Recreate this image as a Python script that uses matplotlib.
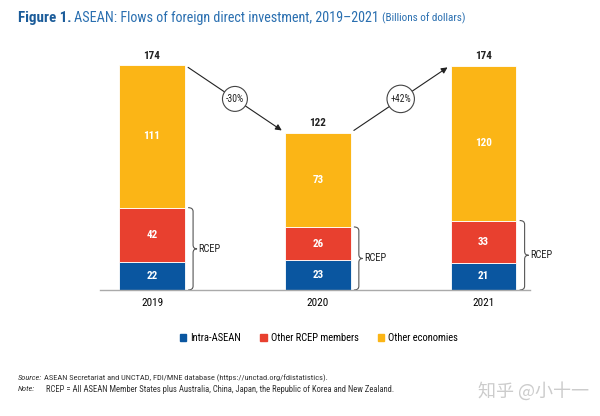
import matplotlib
matplotlib.use("Agg")
import matplotlib.pyplot as plt
from matplotlib.path import Path
from matplotlib.patches import PathPatch
import numpy as np

years = ["2019", "2020", "2021"]
intra_asean = [22, 23, 21]
other_rcep = [42, 26, 33]
other_econ = [111, 73, 120]
totals = [174, 122, 174]
changes = ["-30%", "+42%"]
series_names = ["Intra-ASEAN", "Other RCEP members", "Other economies"]

C_BLUE = "#0a56a0"
C_RED = "#e8402f"
C_YEL = "#fbb516"

FONT = ["Roboto Condensed", "IBM Plex Sans Condensed", "Open Sans", "DejaVu Sans"]
plt.rcParams["font.family"] = FONT
plt.rcParams["font.stretch"] = "condensed"

fig = plt.figure(figsize=(6.0, 4.16), dpi=100)
ax = fig.add_axes([100/600, 126/416, 430/600, 244.5/416])

x = np.arange(len(years))
w = 0.395
ax.bar(x, intra_asean, w, color=C_BLUE, edgecolor="white", linewidth=0.6)
ax.bar(x, other_rcep, w, bottom=intra_asean, color=C_RED, edgecolor="white", linewidth=0.6)
bot2 = np.array(intra_asean) + np.array(other_rcep)
ax.bar(x, other_econ, w, bottom=bot2, color=C_YEL, edgecolor="white", linewidth=0.6)

ax.set_xlim(-0.314, 2.28)
ax.set_ylim(0, 190)
for s in ["top", "right", "left"]:
    ax.spines[s].set_visible(False)
ax.spines["bottom"].set_color("#aaaaaa")
ax.spines["bottom"].set_linewidth(1.0)
ax.set_yticks([])
ax.set_xticks(x)
ax.set_xticklabels(years, fontsize=8)
ax.tick_params(axis="x", length=0, pad=6)

for i in range(len(years)):
    ax.text(x[i], intra_asean[i] / 2, str(intra_asean[i]), ha="center", va="center",
            color="white", fontsize=8, fontweight="bold")
    ax.text(x[i], intra_asean[i] + other_rcep[i] / 2, str(other_rcep[i]), ha="center", va="center",
            color="white", fontsize=8, fontweight="bold")
    ax.text(x[i], bot2[i] + other_econ[i] / 2, str(other_econ[i]), ha="center", va="center",
            color="white", fontsize=8, fontweight="bold")
    ax.text(x[i], totals[i] + 4, str(totals[i]), ha="center", va="bottom",
            color="#222222", fontsize=8, fontweight="bold")

    # brace
    bx = x[i] + w / 2 + 0.02
    top = bot2[i]
    dx = 0.03
    mid = top / 2
    r = 3.0
    verts = [
        (bx, top), (bx + dx, top), (bx + dx, top - r),
        (bx + dx, mid + r),
        (bx + dx, mid), (bx + dx * 1.8, mid),
        (bx + dx, mid), (bx + dx, mid - r),
        (bx + dx, r),
        (bx + dx, 0), (bx, 0),
    ]
    codes = [Path.MOVETO, Path.CURVE3, Path.CURVE3,
             Path.LINETO,
             Path.CURVE3, Path.CURVE3,
             Path.CURVE3, Path.CURVE3,
             Path.LINETO,
             Path.CURVE3, Path.CURVE3]
    ax.add_patch(PathPatch(Path(verts, codes), fill=False, edgecolor="#555555", lw=0.8, clip_on=False))
    ax.text(bx + dx * 2.1, mid, "RCEP", ha="left", va="center", fontsize=7.5, color="#222222")

# arrows with change circles
for i in range(len(changes)):
    x0 = x[i] + w / 2 + 0.02
    y0 = totals[i]
    x1 = x[i + 1] - w / 2 - 0.02
    y1 = totals[i + 1]
    if y1 < y0:
        y0s, y1s = y0 - 1, y1 + 2
    else:
        y0s, y1s = y0 + 2, y1 - 1
    ax.annotate("", xy=(x1, y1s), xytext=(x0, y0s),
                arrowprops=dict(arrowstyle="-|>", color="#222222", lw=0.8,
                                mutation_scale=9, shrinkA=0, shrinkB=0))
    xm = (x0 + x1) / 2
    ym = (y0s + y1s) / 2
    ax.text(xm, ym, changes[i], ha="center", va="center", fontsize=7, color="#222222",
            bbox=dict(boxstyle="circle,pad=0.35", facecolor="white", edgecolor="#444444", lw=0.8))

# title, laid out piece by piece
renderer = fig.canvas.get_renderer()
ty = 1 - 18/416
t1 = fig.text(18/600, ty, "Figure 1.", fontsize=10.8, fontweight="bold", color="#1a5b99",
              ha="left", va="center")
bb = t1.get_window_extent(renderer)
t2 = fig.text((bb.x1 + 3) / 600, ty, "ASEAN: Flows of foreign direct investment, 2019\u20132021",
              fontsize=10.2, color="#2a6fb0", ha="left", va="center")
bb = t2.get_window_extent(renderer)
fig.text((bb.x1 + 3) / 600, ty - 0.5/416, "(Billions of dollars)", fontsize=8, color="#2a6fb0",
         ha="left", va="center")

# legend
handles = [plt.Rectangle((0, 0), 1, 1, color=c) for c in (C_BLUE, C_RED, C_YEL)]
fig.legend(handles, series_names, loc="center", bbox_to_anchor=(319/600, 1 - 338/416),
           ncol=3, frameon=False, fontsize=7.6, handlelength=0.6, handleheight=0.6,
           handletextpad=0.4, columnspacing=1.8)

# notes
s1 = fig.text(18/600, 1 - 378/416, "Source:", fontsize=6, style="italic", color="#333333", va="center")
bb = s1.get_window_extent(renderer)
fig.text((bb.x1 + 2) / 600, 1 - 378/416,
         "ASEAN Secretariat and UNCTAD, FDI/MNE database (https://unctad.org/fdistatistics).",
         fontsize=6, color="#333333", va="center")
fig.text(18/600, 1 - 389/416, "Note:", fontsize=6, style="italic", color="#333333", va="center")
fig.text(46/600, 1 - 389/416,
         "RCEP = All ASEAN Member States plus Australia, China, Japan, the Republic of Korea and New Zealand.",
         fontsize=6.2, color="#333333", va="center")

fig.text(533/600, 1 - 391/416, "知乎 @小十一", fontsize=13, color="#cccccc", ha="center", va="center",
         family=["Noto Sans CJK SC", "DejaVu Sans"])

fig.savefig("out.png", dpi=100)
